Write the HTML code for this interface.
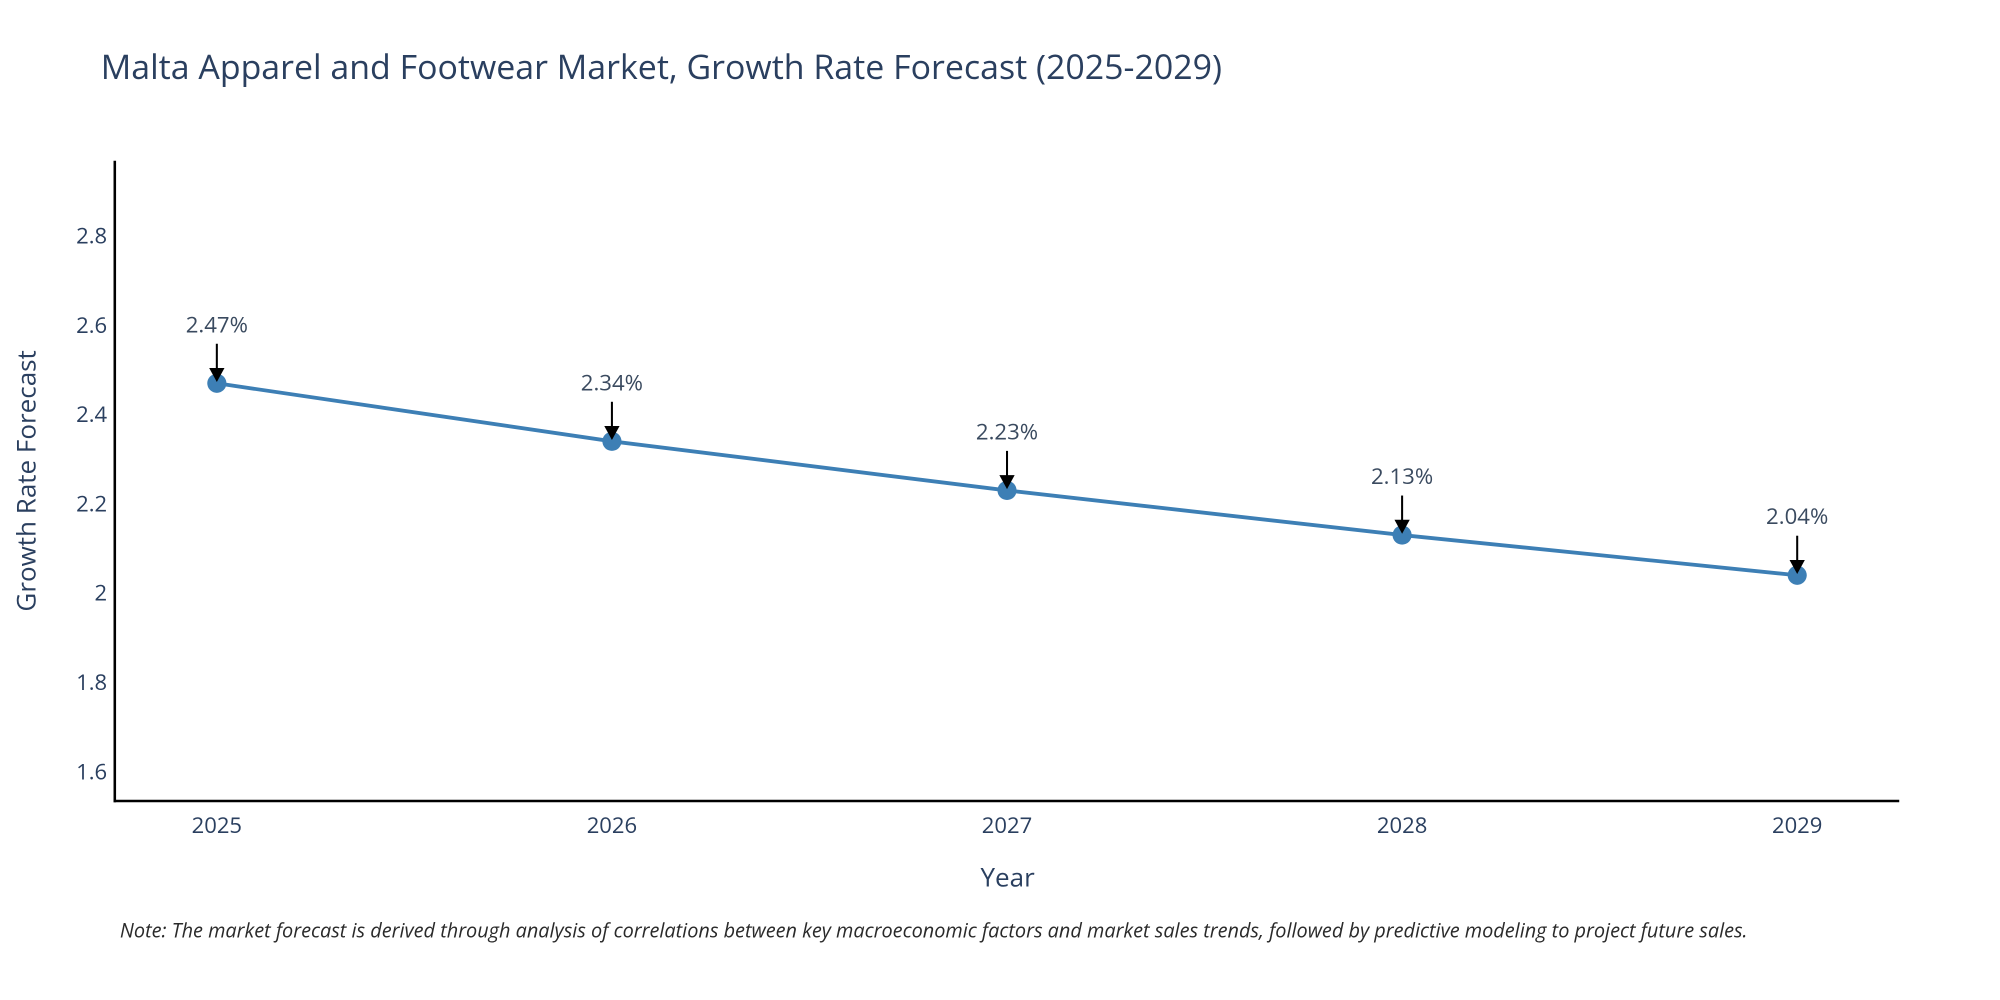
<!DOCTYPE html>
<html><head><meta charset="utf-8"><style>
html,body{margin:0;padding:0;background:#fff;}
svg{display:block;font-family:"Open Sans","Liberation Sans",sans-serif;}
</style></head><body>
<svg id="chart" width="2000" height="1000" viewBox="0 0 1568 784" xmlns="http://www.w3.org/2000/svg">
<rect width="1568" height="784" fill="#fff"/>
<text x="79" y="62" font-size="26.6" fill="#2a3f5f">Malta Apparel and Footwear Market, Growth Rate Forecast (2025-2029)</text>
<g id="yticks"></g><g id="xticks"></g>
<line x1="90" y1="126" x2="90" y2="629" stroke="#000" stroke-width="2"/>
<line x1="89" y1="628" x2="1489" y2="628" stroke="#000" stroke-width="2"/>
<g id="series"></g>
<text x="790" y="695" font-size="20.4" fill="#2a3f5f" text-anchor="middle">Year</text>
<text transform="translate(28,377) rotate(-90)" font-size="20.4" fill="#2a3f5f" text-anchor="middle">Growth Rate Forecast</text>
<text x="94" y="735" font-size="15.6" font-style="italic" fill="#2a2a2a">Note: The market forecast is derived through analysis of correlations between key macroeconomic factors and market sales trends, followed by predictive modeling to project future sales.</text>
</svg>
<script>
const years=["2025","2026","2027","2028","2029"];
const values=[2.47,2.34,2.23,2.13,2.04];
const labels=["2.47%","2.34%","2.23%","2.13%","2.04%"];
const yTicks=[1.6,1.8,2,2.2,2.4,2.6,2.8];
const NS="http://www.w3.org/2000/svg";
const xScale=i=>170+i*(1409-170)/(years.length-1);
const yScale=v=>465-(v-2)*350;
function mk(tag,attrs,parent){const e=document.createElementNS(NS,tag);for(const k in attrs)e.setAttribute(k,attrs[k]);parent.appendChild(e);return e;}
const yt=document.getElementById('yticks'),xt=document.getElementById('xticks'),s=document.getElementById('series');
yTicks.forEach(v=>{const t=mk('text',{x:84,y:yScale(v)+6,'font-size':17.3,fill:'#2a3f5f','text-anchor':'end'},yt);


t.textContent=String(v);});
years.forEach((y,i)=>{const t=mk('text',{x:xScale(i),y:653,'font-size':17.3,fill:'#2a3f5f','text-anchor':'middle'},xt);


t.textContent=y;});
const line=mk('polyline',{points:values.map((v,i)=>xScale(i)+','+yScale(v)).join(' '),fill:'none',stroke:'#3d7fb5','stroke-width':3},s);


values.forEach((v,i)=>{const x=xScale(i),y=yScale(v);
const c=mk('circle',{cx:x,cy:y,r:7.5,fill:'#3d7fb5'},s);


const l=mk('line',{x1:x,y1:y-31,x2:x,y2:y-10,stroke:'#000','stroke-width':1.6},s);


const p=mk('polygon',{points:`${x-6},${y-12} ${x+6},${y-12} ${x},${y-1}`,fill:'#000'},s);


const t=mk('text',{x:x,y:y-40,'font-size':17.4,fill:'#3a4a5f','text-anchor':'middle'},s);


t.textContent=labels[i];});
</script>
</body></html>
